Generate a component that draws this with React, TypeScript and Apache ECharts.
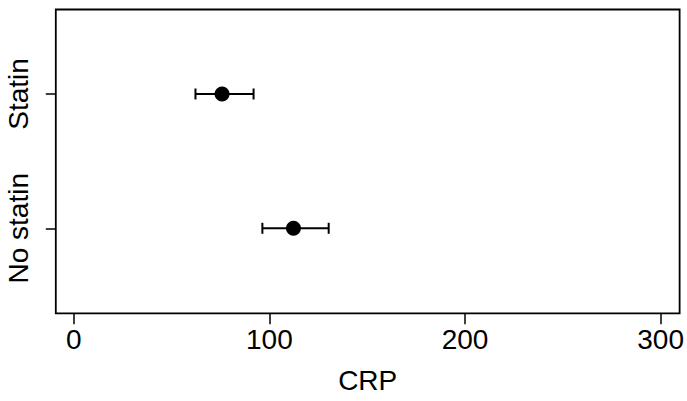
import React, { useEffect, useRef } from "react";
import * as echarts from "echarts";

const categories = ["No statin", "Statin"];
const means = [112.3, 75.8];
const lowers = [96.4, 62.2];
const uppers = [130.3, 91.9];
const xTicks = [0, 100, 200, 300];
const xLabel = "CRP";

const FONT = "'Liberation Sans', Arial, Helvetica, sans-serif";

export default function App() {
  const ref = useRef<HTMLDivElement>(null);
  useEffect(() => {
    if (!ref.current) return;
    const chart = echarts.init(ref.current, undefined, { renderer: "svg" });
    const catPos = categories.map((_, i) => i + 1);
    const errData = categories.map((_, i) => [lowers[i], uppers[i], catPos[i]]);
    const meanData = categories.map((_, i) => [means[i], catPos[i]]);
    chart.setOption({
      animation: false,
      backgroundColor: "#fff",
      grid: {
        left: 55.8,
        right: 6,
        top: 9.5,
        bottom: 87.7,
        show: true,
        borderColor: "#000",
        borderWidth: 1.8,
        backgroundColor: "transparent",
      },
      xAxis: {
        type: "value",
        min: -9.2,
        max: 309.7,
        name: xLabel,
        nameLocation: "middle",
        nameGap: 53,
        nameTextStyle: { fontFamily: FONT, fontSize: 28, color: "#000" },
        axisLine: { show: false, onZero: false },
        splitLine: { show: false },
        axisTick: {
          show: true,
          length: 11,
          customValues: xTicks,
          lineStyle: { color: "#000", width: 1.5 },
        },
        axisLabel: {
          customValues: xTicks,
          fontFamily: FONT,
          fontSize: 28,
          color: "#000",
          margin: 12,
        },
      },
      yAxis: {
        type: "value",
        min: 0.367,
        max: 2.629,
        axisLine: { show: false, onZero: false },
        splitLine: { show: false },
        axisTick: {
          show: true,
          length: 10,
          customValues: catPos,
          lineStyle: { color: "#000", width: 1.5 },
        },
        axisLabel: {
          customValues: catPos,
          rotate: 90,
          fontFamily: FONT,
          fontSize: 28,
          color: "#000",
          margin: 23,
          formatter: (v: number) => categories[Math.round(v) - 1] ?? "",
        },
      },
      series: [
        {
          type: "custom",
          data: errData,
          encode: { x: [0, 1], y: 2 },
          renderItem: (params: any, api: any) => {
            const lo = api.coord([api.value(0), api.value(2)]);
            const hi = api.coord([api.value(1), api.value(2)]);
            const cap = 5.5;
            const style = { stroke: "#000", lineWidth: 2, fill: "none" };
            return {
              type: "group",
              children: [
                { type: "line", shape: { x1: lo[0], y1: lo[1], x2: hi[0], y2: hi[1] }, style },
                { type: "line", shape: { x1: lo[0], y1: lo[1] - cap, x2: lo[0], y2: lo[1] + cap }, style },
                { type: "line", shape: { x1: hi[0], y1: hi[1] - cap, x2: hi[0], y2: hi[1] + cap }, style },
              ],
            };
          },
        },
        {
          type: "scatter",
          data: meanData,
          symbol: "circle",
          symbolSize: 15,
          itemStyle: { color: "#000", opacity: 1 },
          z: 3,
        },
      ],
    });
    return () => chart.dispose();
  }, []);
  return (
    <div
      ref={ref}
      style={{ position: "fixed", left: 0, top: 0, width: 687, height: 401 }}
    />
  );
}
